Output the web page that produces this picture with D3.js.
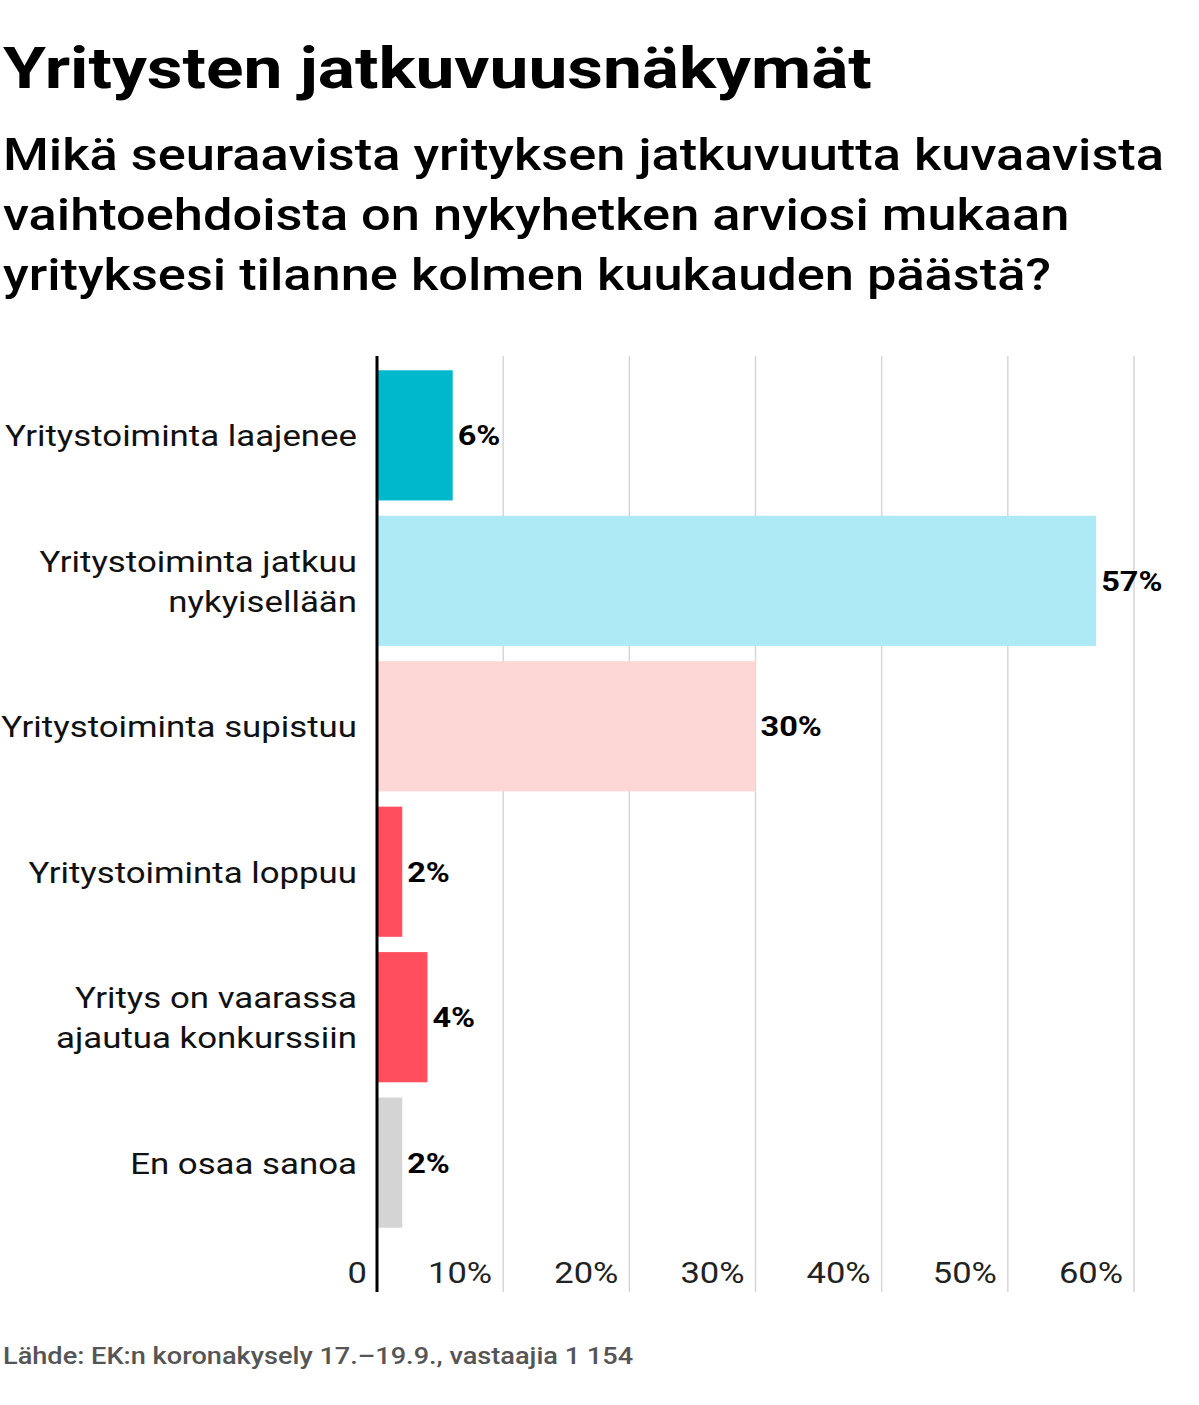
<!DOCTYPE html><html><head><meta charset="utf-8"><script src="https://cdn.jsdelivr.net/npm/d3@7"></script>
<style>body{margin:0;background:#fff;font-family:Roboto,sans-serif}</style></head><body><svg id="c" width="1199" height="1405"></svg>
<script>
const categories=[["Yritystoiminta laajenee"],["Yritystoiminta jatkuu","nykyisellään"],["Yritystoiminta supistuu"],["Yritystoiminta loppuu"],["Yritys on vaarassa","ajautua konkurssiin"],["En osaa sanoa"]];
const values=[6,57,30,2,4,2];
const colors=["#00b8cc","#aeeaf5","#fdd6d6","#ff4f5e","#ff4f5e","#d4d4d4"];
const ticks=[0,10,20,30,40,50,60];
const svg=d3.select("#c");
function widen(sel,f){sel.each(function(){const w=this.getComputedTextLength();d3.select(this).attr("textLength",w*f).attr("lengthAdjust","spacingAndGlyphs");});return sel;}
widen(svg.append("text").attr("x",3).attr("y",88).attr("font-size",58).attr("font-weight",700).text("Yritysten jatkuvuusnäkymät"),1.197);
["Mikä seuraavista yrityksen jatkuvuutta kuvaavista","vaihtoehdoista on nykyhetken arviosi mukaan","yrityksesi tilanne kolmen kuukauden päästä?"].forEach((t,i)=>
 widen(svg.append("text").attr("x",3).attr("y",170+i*60).attr("font-size",44).attr("font-weight",500).text(t),1.19));
const x=d3.scaleLinear().domain([0,60]).range([377,1134]);
const y=d3.scaleBand().domain(d3.range(6)).range([363,1235]).paddingInner(0.105).paddingOuter(0.05);
const g=svg.append("g");
ticks.forEach(t=>{ if(t>0) g.append("line").attr("x1",x(t)).attr("x2",x(t)).attr("y1",356).attr("y2",1292).attr("stroke","#d6d6d6").attr("stroke-width",1.5);
 widen(g.append("text").attr("x",x(t)-(t?11:10)).attr("y",1283).attr("text-anchor","end").attr("font-size",30).attr("fill","#222").text(t?t+"%":"0"),1.15);});
values.forEach((v,i)=>{
 g.append("rect").attr("x",x(0)).attr("y",y(i)).attr("width",x(v)-x(0)).attr("height",y.bandwidth()).attr("fill",colors[i]);
 widen(g.append("text").attr("x",x(v)+5).attr("y",y(i)+y.bandwidth()/2+10).attr("font-size",28).attr("font-weight",700).text(v+"%"),1.16);
 const L=categories[i];
 L.forEach((l,j)=>widen(g.append("text").attr("x",357).attr("y",y(i)+y.bandwidth()/2+11+(j-(L.length-1)/2)*40).attr("text-anchor","end").attr("font-size",30).attr("fill","#111").text(l),1.16));
});
g.append("line").attr("x1",377).attr("x2",377).attr("y1",356).attr("y2",1292).attr("stroke","#000").attr("stroke-width",3);
widen(svg.append("text").attr("x",3).attr("y",1364).attr("font-size",23).attr("font-weight",500).attr("fill","#555").text("Lähde: EK:n koronakysely 17.–19.9., vastaajia 1 154"),1.18);
</script></body></html>
